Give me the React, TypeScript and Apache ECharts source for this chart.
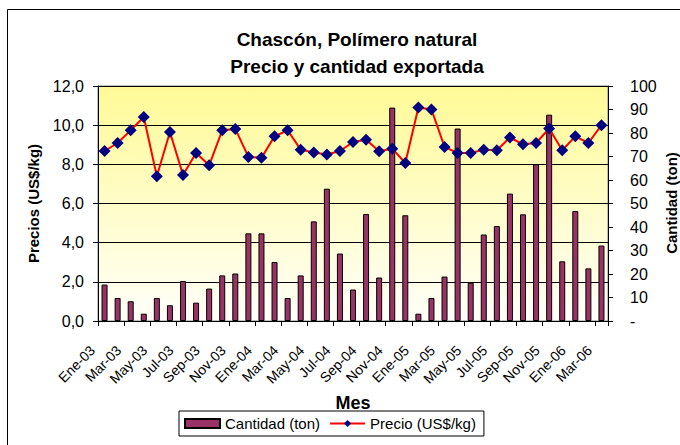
import React, { useEffect, useRef } from "react";
import * as echarts from "echarts";

const months = [
  "Ene-03", "Feb-03", "Mar-03", "Abr-03", "May-03", "Jun-03", "Jul-03", "Ago-03", "Sep-03", "Oct-03", "Nov-03", "Dic-03",
  "Ene-04", "Feb-04", "Mar-04", "Abr-04", "May-04", "Jun-04", "Jul-04", "Ago-04", "Sep-04", "Oct-04", "Nov-04", "Dic-04",
  "Ene-05", "Feb-05", "Mar-05", "Abr-05", "May-05", "Jun-05", "Jul-05", "Ago-05", "Sep-05", "Oct-05", "Nov-05", "Dic-05",
  "Ene-06", "Feb-06", "Mar-06",
];

const cantidad = [
  15.5, 9.8, 8.4, 3.1, 9.8, 6.7, 17.0, 7.8, 13.8, 19.4, 20.2, 37.3,
  37.3, 25.1, 9.8, 19.4, 42.4, 56.3, 28.7, 13.4, 45.5, 18.5, 90.8, 45.0,
  3.1, 9.8, 18.9, 81.9, 16.3, 36.8, 40.4, 54.2, 45.4, 66.7, 87.8, 25.4,
  46.8, 22.4, 32.1,
];

const precio = [
  8.68, 9.09, 9.74, 10.42, 7.39, 9.65, 7.46, 8.58, 7.95, 9.74, 9.81, 8.38,
  8.33, 9.43, 9.74, 8.75, 8.6, 8.5, 8.68, 9.14, 9.26, 8.67, 8.8, 8.07,
  10.9, 10.8, 8.89, 8.58, 8.58, 8.75, 8.72, 9.37, 9.02, 9.09, 9.83, 8.72,
  9.43, 9.09, 10.0,
];

const FONT = "'Liberation Sans', Arial, sans-serif";

export default function App() {
  const ref = useRef<HTMLDivElement>(null);
  useEffect(() => {
    if (!ref.current) return;
    const chart = echarts.init(ref.current, null, { renderer: "svg" });
    chart.setOption({
      animation: false,
      backgroundColor: "#ffffff",
      textStyle: { fontFamily: FONT },
      title: {
        text: "Chascón, Polímero natural\nPrecio y cantidad exportada",
        left: 352,
        top: 21,
        textAlign: "center",
        textStyle: { fontFamily: FONT, fontSize: 19, fontWeight: "bold", color: "#000", lineHeight: 27 },
      },
      graphic: [
        {
          type: "rect",
          shape: { x: 7.5, y: 9.5, width: 720, height: 480 },
          style: { fill: "none", stroke: "#000", lineWidth: 1 },
          z: 100,
          silent: true,
        },
        {
          type: "text",
          x: 671,
          y: 203,
          rotation: Math.PI / 2,
          silent: true,
          style: {
            text: "Cantidad (ton)",
            font: "bold 15px 'Liberation Sans', Arial, sans-serif",
            fill: "#000",
            align: "center",
            verticalAlign: "middle",
            textAlign: "center",
            textVerticalAlign: "middle",
          },
        },
      ],
      legend: {
        left: 179,
        top: 411,
        borderColor: "#000",
        borderWidth: 1,
        borderRadius: 0,
        padding: [5, 8, 5, 5],
        itemGap: 9,
        itemWidth: 35,
        itemHeight: 9,
        textStyle: { fontFamily: FONT, fontSize: 15, color: "#000" },
        data: [
          { name: "Cantidad (ton)", icon: "rect" },
          { name: "Precio (US$/kg)" },
        ],
      },
      grid: {
        left: 98,
        top: 86,
        right: 72,
        bottom: 124,
        containLabel: false,
        outerBoundsMode: "none",
        show: true,
        borderColor: "#808080",
        borderWidth: 1,
        backgroundColor: {
          type: "linear",
          x: 0, y: 0, x2: 0, y2: 1,
          colorStops: [
            { offset: 0, color: "#FFFA96" },
            { offset: 1, color: "#FFFFFA" },
          ],
        },
      },
      xAxis: {
        type: "category",
        data: months,
        boundaryGap: true,
        name: "Mes",
        nameLocation: "middle",
        nameGap: 73,
        nameTextStyle: { fontFamily: FONT, fontSize: 18, fontWeight: "bold", color: "#000" },
        axisLine: { lineStyle: { color: "#000", width: 1 } },
        axisTick: { show: true, interval: 1, length: 5, lineStyle: { color: "#000" } },
        axisLabel: {
          interval: 1,
          rotate: 45,
          margin: 15,
          padding: [0, 17, 0, 0],
          fontFamily: FONT,
          fontSize: 14,
          color: "#000",
        },
      },
      yAxis: [
        {
          type: "value",
          min: 0,
          max: 12,
          interval: 2,
          position: "left",
          name: "Precios (US$/kg)",
          nameLocation: "middle",
          nameRotate: 90,
          nameGap: 57,
          nameTextStyle: { fontFamily: FONT, fontSize: 15, fontWeight: "bold", color: "#000" },
          axisLine: { show: true, lineStyle: { color: "#000" } },
          axisTick: { show: true, length: 5, lineStyle: { color: "#000" } },
          axisLabel: {
            margin: 14,
            fontFamily: FONT,
            fontSize: 16,
            color: "#000",
            formatter: (v: number) => v.toFixed(1).replace(".", ","),
          },
          splitLine: { show: true, lineStyle: { color: "#000", width: 1 } },
        },
        {
          type: "value",
          min: 0,
          max: 100,
          interval: 10,
          position: "right",
          axisLine: { show: true, lineStyle: { color: "#000" } },
          axisTick: { show: true, length: 5, lineStyle: { color: "#000" } },
          axisLabel: {
            margin: 22,
            fontFamily: FONT,
            fontSize: 16,
            color: "#000",
            formatter: (v: number) => (v === 0 ? "-" : String(v)),
          },
          splitLine: { show: false },
        },
      ],
      series: [
        {
          name: "Cantidad (ton)",
          type: "bar",
          yAxisIndex: 1,
          data: cantidad,
          barWidth: 6,
          itemStyle: { color: "#993366", borderColor: "#000", borderWidth: 1 },
          z: 2,
        },
        {
          name: "Precio (US$/kg)",
          type: "line",
          yAxisIndex: 0,
          data: precio,
          symbol: "diamond",
          symbolSize: 12,
          showSymbol: true,
          showAllSymbol: true,
          lineStyle: { color: "#FF0000", width: 2 },
          itemStyle: { color: "#000080" },
          z: 3,
        },
      ],
    });
    return () => chart.dispose();
  }, []);
  return (
    <div
      ref={ref}
      style={{ position: "fixed", left: 0, top: 0, width: 680, height: 445 }}
    />
  );
}
